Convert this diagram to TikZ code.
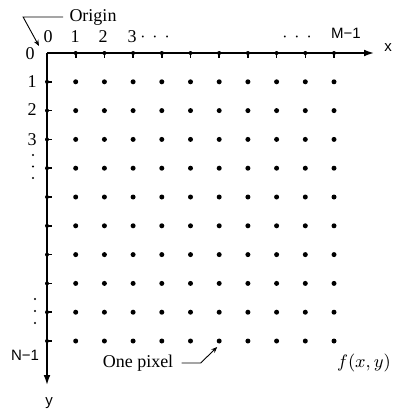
\documentclass[tikz,border=0pt]{standalone}
\usepackage{fontspec}
\setmainfont{Liberation Serif}
\setsansfont{Liberation Sans}
\usetikzlibrary{positioning,arrows.meta}

\begin{document}
\begin{tikzpicture}[x=0.5pt,y=-0.5pt,
    pixel/.style={circle, fill, inner sep=0pt, minimum size=2.5pt},
    tick/.style={circle, fill, inner sep=0pt, minimum size=2pt},
    vdot/.style={circle, fill, inner sep=0pt, minimum size=1.1pt},
    num/.style={font=\fontsize{9}{10}\selectfont, inner sep=0pt},
    sflab/.style={font=\sffamily\fontsize{7.5}{9}\selectfont, inner sep=0pt},
    axis/.style={-{Latex[length=5pt,width=3.4pt]}, line width=0.75pt},
    pointer/.style={-{Stealth[length=3pt,width=2.4pt]}, line width=0.45pt}
]
\useasboundingbox (0,0) rectangle (394,412);

% --- Ejes ---
\coordinate (o) at (47,53);
\coordinate (xend) at (374,53);
\coordinate (yend) at (47,385);
\draw[axis] (o) -- (xend);
\draw[axis] (o) -- (yend);
\node[sflab] (xl) at (388,48) {x};
\node[sflab] (yl) at (49,403) {y};

% --- Marcas y pixeles ---
\foreach \i in {1,...,10} {
  \node[tick] (tx\i) at ({47+28.7*\i},53) {};
  \draw[line width=0.8pt] (tx\i.center) -- ++(0,5);
  \node[tick] (ty\i) at (47,{53+28.8*\i}) {};
  \draw[line width=0.8pt] (ty\i.center) -- ++(5,0);
  \foreach \j in {1,...,10}
    \node[pixel] (p-\i-\j) at ({47+28.7*\i},{53+28.8*\j}) {};
}

% --- Rotulos del eje x ---
\node[num] (lx0) at (48,37) {0};
\node[num] (lx1) at (75,37) {1};
\node[num] (lx2) at (103,37) {2};
\node[num] (lx3) at (132,37) {3};
\node[num] (lxd) at (155,37) {$\cdot$\hspace{3.5pt}$\cdot$\hspace{3.5pt}$\cdot$};
\node[num] (rxd) at (297,37) {$\cdot$\hspace{3.5pt}$\cdot$\hspace{3.5pt}$\cdot$};
\node[sflab] (lxm) at (346,33) {M−1};

% --- Rotulos del eje y ---
\node[num] (ly0) at (30,54) {0};
\node[num] (ly1) at (32,82) {1};
\node[num] (ly2) at (32,110) {2};
\node[num] (ly3) at (32,140) {3};
\foreach \k in {0,1,2} {
  \node[vdot] (va\k) at (33,{155+11.5*\k}) {};
  \node[vdot] (vb\k) at (35,{299+12*\k}) {};
}
\node[sflab] (lyn) at (25,355) {N−1};

% --- Indicadores ---
\node[num] (orig) at (93,17) {Origin};
\draw[pointer] ([xshift=-3pt]orig.west) -- ++(-40,0) -- ([shift={(-8,-7)}]o);
\node[num] (pxl) at (138,363) {One pixel};
\draw[pointer] ([xshift=4pt]pxl.east) -- ++(19,0) -- ([shift={(-2,6)}]p-6-10.center);
\node[num, font=\fontsize{9.5}{10}\selectfont] (fxy) at (364,363) {$f(x,y)$};

\end{tikzpicture}
\end{document}
